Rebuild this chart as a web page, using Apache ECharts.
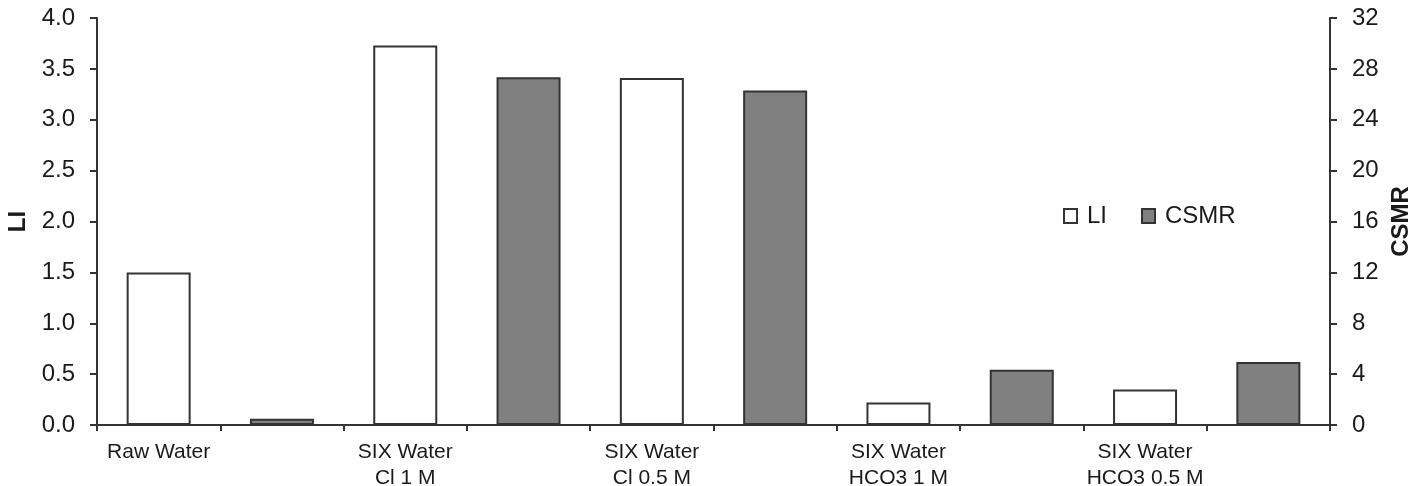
<!DOCTYPE html>
<html><head><meta charset="utf-8">
<script src="https://cdn.jsdelivr.net/npm/echarts@6/dist/echarts.min.js"></script>
<style>html,body{margin:0;padding:0;background:#fff}#c{width:1426px;height:486px}</style>
</head><body><div id="c"></div>
<script>
const categories = ['Raw Water','','SIX Water\nCl 1 M','','SIX Water\nCl 0.5 M','','SIX Water\nHCO3 1 M','','SIX Water\nHCO3 0.5 M',''];
const liValues = [1.5,'-',3.73,'-',3.41,'-',0.22,'-',0.35,'-'];
const csmrValues = ['-',0.5,'-',27.35,'-',26.3,'-',4.35,'-',4.95];
const leftTicks = {min:0, max:4, interval:0.5};
const rightTicks = {min:0, max:32, interval:4};

const font = 'Liberation Sans, Arial, sans-serif';
const axisColor = '#333';
const chart = echarts.init(document.getElementById('c'), null, {renderer:'canvas'});
chart.setOption({
  animation:false,
  backgroundColor:'#fff',
  grid:{left:97, right:96, top:18, bottom:61, containLabel:false, outerBoundsMode:'none'},
  legend:{
    left:1063, top:204, padding:0, itemWidth:13, itemHeight:14, itemGap:34,
    icon:'rect',
    textStyle:{fontFamily:font, fontSize:24, color:'#1a1a1a', padding:[0,0,0,5]},
    data:['LI','CSMR']
  },
  xAxis:{
    type:'category', data:categories,
    axisLine:{lineStyle:{color:axisColor, width:2}},
    axisTick:{show:true, interval:0, length:6, lineStyle:{color:axisColor, width:2}},
    axisLabel:{interval:0, fontFamily:font, fontSize:21, color:'#1a1a1a', margin:14, lineHeight:26},
  },
  yAxis:[{
    type:'value', min:leftTicks.min, max:leftTicks.max, interval:leftTicks.interval,
    name:'LI', nameLocation:'middle', nameGap:64, nameRotate:90,
    nameTextStyle:{fontFamily:font, fontSize:24, fontWeight:'bold', color:'#1a1a1a'},
    axisLine:{show:true, lineStyle:{color:axisColor, width:2}},
    axisTick:{show:true, length:7, lineStyle:{color:axisColor, width:2}},
    axisLabel:{fontFamily:font, fontSize:24, color:'#1a1a1a', margin:22, formatter:v=>v.toFixed(1)},
    splitLine:{show:false}
  },{
    type:'value', min:rightTicks.min, max:rightTicks.max, interval:rightTicks.interval,
    name:'CSMR', nameLocation:'middle', nameGap:59, nameRotate:90,
    nameTextStyle:{fontFamily:font, fontSize:24, fontWeight:'bold', color:'#1a1a1a'},
    axisLine:{show:true, lineStyle:{color:axisColor, width:2}},
    axisTick:{show:true, length:7, lineStyle:{color:axisColor, width:2}},
    axisLabel:{fontFamily:font, fontSize:24, color:'#1a1a1a', margin:22},
    splitLine:{show:false}
  }],
  series:[{
    name:'LI', type:'bar', yAxisIndex:0, data:liValues, barWidth:64, barGap:'-100%',
    itemStyle:{color:'#ffffff', borderColor:'#333', borderWidth:2}
  },{
    name:'CSMR', type:'bar', yAxisIndex:1, data:csmrValues, barWidth:64, barGap:'-100%',
    itemStyle:{color:'#808080', borderColor:'#333', borderWidth:2}
  }]
});
</script></body></html>
